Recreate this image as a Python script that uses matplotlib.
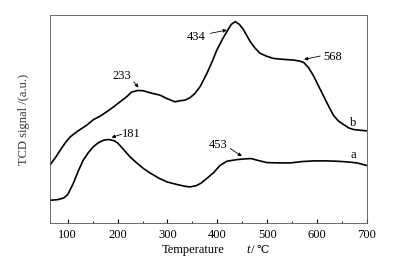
import matplotlib
matplotlib.use("Agg")
import matplotlib.pyplot as plt
from matplotlib.ticker import MultipleLocator

plt.rcParams['font.family'] = ['Liberation Serif', 'DejaVu Serif']

# curve b (upper)
temp_b = [65, 75, 85, 95, 105, 120, 138, 152, 165, 180, 192, 205, 218, 228, 240, 252, 265,
          285, 300, 315, 325, 335, 345, 355, 366, 379, 390, 399, 410, 419, 428, 436, 444,
          452, 466, 476, 486, 498, 512, 533, 553, 565, 573, 583, 593, 603, 613, 623, 633,
          643, 653, 663, 673, 685, 700]
sig_b = [175, 195, 218, 240, 258, 275, 293, 310, 320, 335, 348, 363, 378, 392, 397, 396, 390,
         383, 372, 363, 366, 368, 375, 388, 410, 448, 485, 518, 550, 573, 595, 603, 595,
         580, 543, 523, 508, 500, 493, 490, 488, 485, 481, 465, 440, 410, 380, 350, 322,
         305, 295, 285, 280, 278, 276]

# curve a (lower)
temp_a = [65, 80, 92, 100, 111, 121, 131, 141, 151, 161, 172, 182, 192, 200, 212, 225, 240,
          252, 265, 282, 299, 320, 335, 345, 358, 368, 380, 392, 405, 419, 440, 455, 468,
          480, 499, 520, 546, 570, 593, 620, 640, 660, 680, 700]
sig_a = [68, 70, 75, 85, 118, 155, 188, 210, 228, 240, 248, 250, 247, 240, 220, 198, 178,
         163, 150, 135, 123, 115, 110, 108, 112, 120, 135, 150, 172, 185, 190, 192, 193,
         188, 181, 180, 180, 184, 186, 186, 185, 183, 180, 172]

fig = plt.figure(figsize=(3.93, 2.61), dpi=100)
ax = fig.add_axes([50 / 393, 38 / 261, 317 / 393, 208 / 261])

ax.plot(temp_b, sig_b, color='black', lw=1.2)
ax.plot(temp_a, sig_a, color='black', lw=1.2)

ax.set_xlim(64.5, 700)
ax.set_ylim(0, 623)
ax.set_yticks([])
ax.xaxis.set_major_locator(MultipleLocator(100))
ax.xaxis.set_minor_locator(MultipleLocator(50))
ax.tick_params(axis='x', which='both', direction='in', labelsize=9, top=False, pad=4)
ax.tick_params(axis='x', which='major', length=3)
ax.tick_params(axis='x', which='minor', length=1.5)
for s in ax.spines.values():
    s.set_linewidth(0.6)
    s.set_color('#555555')

# x label in parts
xt = ax.get_xaxis_transform()
ax.text(352, -0.13, "Temperature", transform=xt, fontsize=9, ha='center', va='center')
ax.text(462, -0.13, "t", transform=xt, fontsize=9, style='italic', ha='center', va='center')
ax.text(471, -0.13, "/", transform=xt, fontsize=9, ha='center', va='center')
ax.text(492, -0.13, "\u2103", transform=xt, fontsize=8, ha='center', va='center')

ax.set_ylabel("TCD signal /(a.u.)", fontsize=9, color='#333333')
ax.yaxis.set_label_coords(-20 / 317, 0.5)

arr = dict(arrowstyle='-|>', color='black', lw=0.6, mutation_scale=5, shrinkA=0, shrinkB=0)
ax.annotate("", xy=(419, 578), xytext=(386, 568), arrowprops=arr)
ax.text(357, 556, "434", fontsize=9, ha='center', va='center')
ax.annotate("", xy=(574, 490), xytext=(606, 500), arrowprops=arr)
ax.text(632, 498, "568", fontsize=9, ha='center', va='center')
ax.annotate("", xy=(242, 406), xytext=(232, 423), arrowprops=arr)
ax.text(208, 440, "233", fontsize=9, ha='center', va='center')
ax.annotate("", xy=(188, 256), xytext=(208, 266), arrowprops=arr)
ax.text(228, 266, "181", fontsize=9, ha='center', va='center')
ax.annotate("", xy=(449, 200), xytext=(426, 223), arrowprops=arr)
ax.text(402, 233, "453", fontsize=9, ha='center', va='center')
ax.text(672, 300, "b", fontsize=9, ha='center', va='center')
ax.text(672, 203, "a", fontsize=9, ha='center', va='center')

fig.savefig("out.png", dpi=100)
